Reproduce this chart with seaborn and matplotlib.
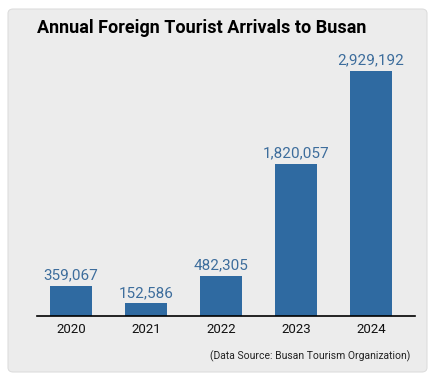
import pandas as pd
import matplotlib.pyplot as plt
import seaborn as sns
from matplotlib.patches import FancyBboxPatch

# Data
years = ['2020', '2021', '2022', '2023', '2024']
arrivals = [359067, 152586, 482305, 1820057, 2929192]

BAR_COLOR = '#2f6aa1'
LABEL_COLOR = '#3d6d9c'
PANEL_COLOR = '#ececec'

sns.set_style('white')
plt.rcParams['font.family'] = ['Roboto', 'DejaVu Sans']

df = pd.DataFrame({'year': years, 'arrivals': arrivals})

fig = plt.figure(figsize=(4.4, 3.8), dpi=100)
fig.patch.set_facecolor('white')

# Rounded gray panel behind everything
panel = FancyBboxPatch((8 / 440, 1 - 372 / 380), 419 / 440, 363 / 380,
                       boxstyle='round,pad=0,rounding_size=0.012',
                       transform=fig.transFigure, facecolor=PANEL_COLOR,
                       edgecolor='#dddddd', linewidth=0.8, zorder=-1)
fig.add_artist(panel)

ax = fig.add_axes([37 / 440, 1 - 316 / 380, 378 / 440, 276 / 380])
ax.set_facecolor('none')
ax.set_zorder(2)

sns.barplot(data=df, x='year', y='arrivals', color=BAR_COLOR, width=0.55,
            saturation=1, linewidth=0, ax=ax)

for i, v in enumerate(arrivals):
    ax.text(i, v + 40000, f'{v:,}', ha='center', va='bottom',
            fontsize=11, color=LABEL_COLOR)

ax.set_xlim(-0.453, 4.587)
ax.set_ylim(0, 3300000)
ax.set_xlabel('')
ax.set_ylabel('')
ax.set_yticks([])
for side in ['top', 'right', 'left']:
    ax.spines[side].set_visible(False)
ax.spines['bottom'].set_color('black')
ax.spines['bottom'].set_linewidth(1.2)
ax.tick_params(axis='x', length=0, pad=5, labelsize=9.5, labelcolor='#111111')

fig.text(37 / 440, 1 - 28 / 380, 'Annual Foreign Tourist Arrivals to Busan',
         ha='left', va='center', fontsize=13, fontweight='bold', color='black',
         zorder=3)
fig.text(410 / 440, 1 - 356 / 380, '(Data Source: Busan Tourism Organization)',
         ha='right', va='center', fontsize=7.5, color='#222222', zorder=3)

plt.savefig('out.png', dpi=100)
